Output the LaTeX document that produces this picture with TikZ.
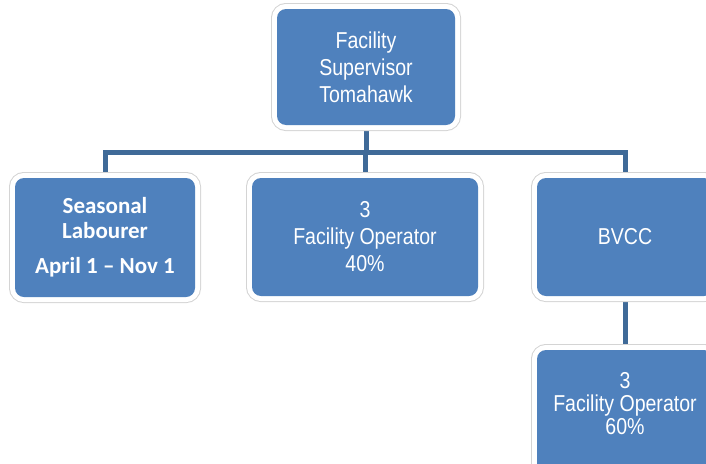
\documentclass[tikz,border=0pt]{standalone}
\usepackage{fontspec}
\setmainfont{Liberation Sans}[FakeStretch=0.85]
\newfontfamily\calibri{Carlito}
\usetikzlibrary{backgrounds}
\definecolor{boxblue}{HTML}{4F81BD}
\definecolor{linkblue}{HTML}{3F6A98}
\definecolor{halo}{HTML}{D4D4D4}
\begin{document}
\begin{tikzpicture}[x=1pt,y=-1pt,
  box/.style={rectangle, rounded corners=9pt, fill=boxblue, text=white, align=center, inner sep=0pt,
    preaction={draw=halo, line width=12pt}, preaction={draw=white, line width=10pt},
    font=\fontsize{23}{27}\selectfont},
  link/.style={draw=linkblue, line width=5pt}]
\useasboundingbox (0,0) rectangle (706,463);
\clip (0,0) rectangle (706,463);
\node[box, minimum width=178pt, minimum height=116pt] (top) at (366,67) {Facility\\Supervisor\\Tomahawk};
\node[box, minimum width=180pt, minimum height=119pt, font=\calibri\bfseries\fontsize{23}{25}\selectfont] (seas) at (105,237.5) {Seasonal\\Labourer\\[10pt]April 1 – Nov 1};
\node[box, minimum width=226pt, minimum height=118pt] (mid) at (365,237) {3\\Facility Operator\\40\%};
\node[box, minimum width=176pt, minimum height=118pt] (bvcc) at (625,237) {BVCC};
\node[box, minimum width=176pt, minimum height=130pt, font=\fontsize{23}{23}\selectfont] (bot) at (625,415) {3\\Facility Operator\\60\%\\\mbox{}};
\coordinate (bus) at (0,152);
\begin{scope}[on background layer]
\draw[link] (top.south) -- (top.south |- bus);
\draw[link] (seas.north) -- (seas.north |- bus) -- (bvcc.north |- bus) -- (bvcc.north);
\draw[link] (mid.north) -- (mid.north |- bus);
\draw[link] (bvcc.south) -- (bot.north);
\end{scope}
\end{tikzpicture}
\end{document}
